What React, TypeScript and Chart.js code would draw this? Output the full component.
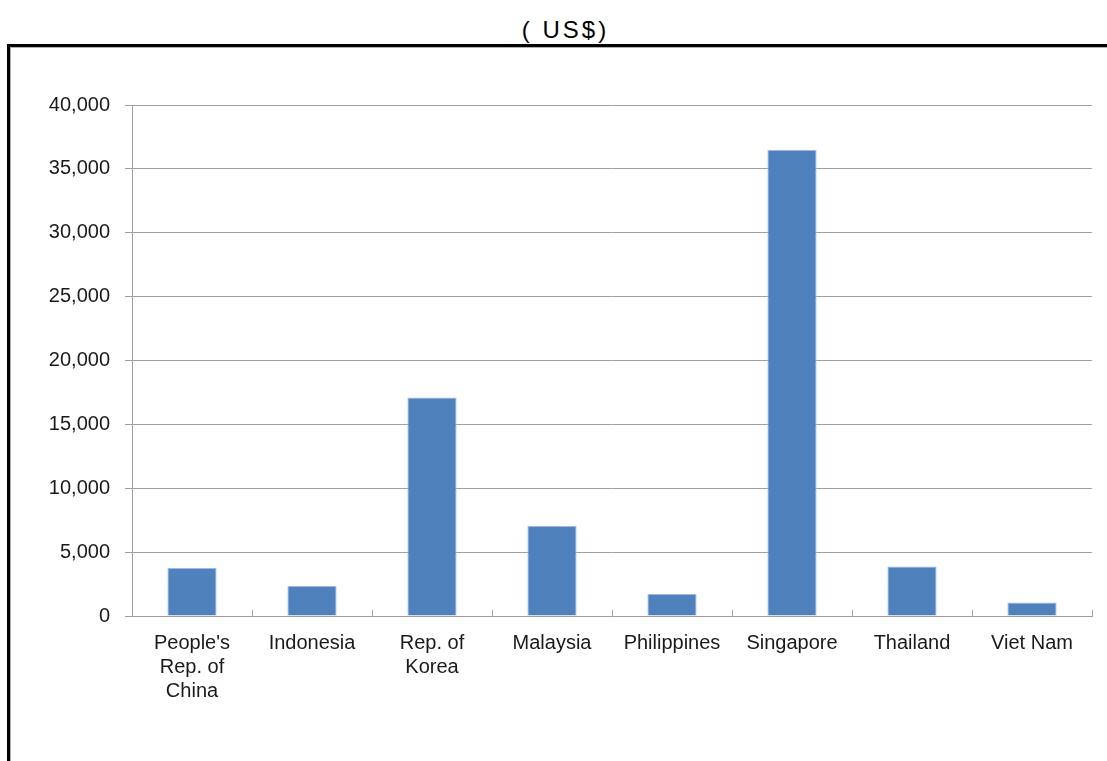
import React, { useEffect, useRef } from "react";
import { Chart, registerables } from "chart.js";

Chart.register(...registerables);

const categories: (string | string[])[] = [
  ["People's", "Rep. of", "China"],
  "Indonesia",
  ["Rep. of", "Korea"],
  "Malaysia",
  "Philippines",
  "Singapore",
  "Thailand",
  "Viet Nam",
];
const values: number[] = [3750, 2350, 17100, 7050, 1720, 36500, 3870, 1050];
const yMin = 0;
const yMax = 40000;
const yStep = 5000;
const titleText = "( US$)";

const FONT = "'Liberation Sans', Arial, sans-serif";
const GRID = "#a0a0a0";

const innerTicks = {
  id: "innerTicks",
  afterDraw(chart: any) {
    const x = chart.scales.x;
    const ctx = chart.ctx;
    const n = x.ticks.length;
    const bottom = chart.chartArea.bottom;
    ctx.save();
    ctx.strokeStyle = GRID;
    ctx.lineWidth = 1;
    for (let i = 1; i <= n; i++) {
      const px = Math.round(x.getPixelForDecimal(i / n)) + 0.5;
      ctx.beginPath();
      ctx.moveTo(px, bottom - 6);
      ctx.lineTo(px, bottom);
      ctx.stroke();
    }
    ctx.restore();
  },
};

export default function App() {
  const ref = useRef<HTMLCanvasElement | null>(null);
  useEffect(() => {
    if (!ref.current) return;
    const chart = new Chart(ref.current, {
      type: "bar",
      data: {
        labels: categories,
        datasets: [
          {
            data: values,
            backgroundColor: "#4F81BD",
            borderColor: "#9DBAE0",
            borderWidth: 1,
            borderSkipped: "bottom",
            categoryPercentage: 1,
            barPercentage: 0.41,
          },
        ],
      },
      options: {
        animation: false,
        responsive: false,
        maintainAspectRatio: false,
        layout: { padding: { left: 0, top: 105, right: 15, bottom: 0 } },
        plugins: {
          legend: { display: false },
          tooltip: { enabled: false },
          title: { display: false },
        },
        scales: {
          x: {
            offset: true,
            grid: { display: false, drawTicks: false },
            border: { display: true, color: GRID, width: 1 },
            ticks: {
              color: "#1a1a1a",
              font: { family: FONT, size: 20, lineHeight: 1.2 },
              padding: 15,
              maxRotation: 0,
              autoSkip: false,
            },
            afterFit(scale: any) {
              scale.height = 145;
            },
          },
          y: {
            min: yMin,
            max: yMax,
            grid: { color: GRID, lineWidth: 1, tickLength: 7, drawTicks: true },
            border: { display: true, color: GRID, width: 1 },
            ticks: {
              stepSize: yStep,
              color: "#1a1a1a",
              padding: 15,
              font: { family: FONT, size: 20 },
              callback: (v: any) => Number(v).toLocaleString("en-US"),
            },
            afterFit(scale: any) {
              scale.width = 132;
            },
          },
        },
      },
      plugins: [innerTicks],
    });
    return () => chart.destroy();
  }, []);

  return (
    <div
      style={{
        position: "fixed",
        left: 0,
        top: 0,
        width: 1107,
        height: 761,
        overflow: "hidden",
        background: "#fff",
        fontFamily: FONT,
      }}
    >
      <div
        style={{
          position: "absolute",
          left: 0,
          top: 18,
          width: 1128,
          paddingLeft: 3,
          boxSizing: "border-box",
          textAlign: "center",
          fontSize: 24,
          letterSpacing: 3,
          lineHeight: "24px",
          color: "#000",
          whiteSpace: "pre",
        }}
      >
        {titleText}
      </div>
      <div
        style={{
          position: "absolute",
          left: 7,
          top: 44,
          width: 1200,
          height: 800,
          borderTop: "3px solid #000",
          borderLeft: "3px solid #000",
          boxShadow: "inset 1px 1px 0 #b0b0b0",
        }}
      />
      <canvas
        ref={ref}
        width={1107}
        height={761}
        style={{ position: "absolute", left: 0, top: 0, width: 1107, height: 761 }}
      />
    </div>
  );
}
